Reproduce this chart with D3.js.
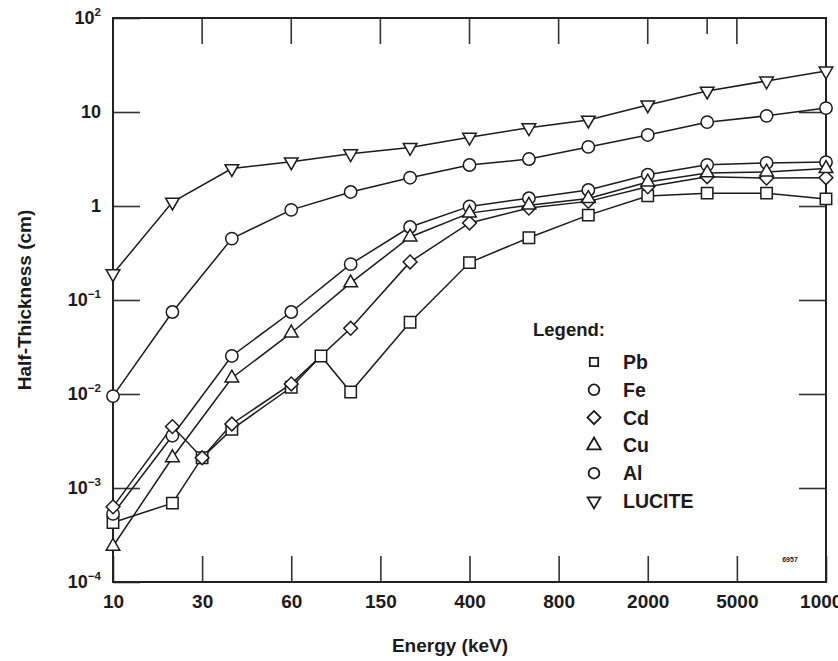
<!DOCTYPE html>
<html>
<head>
<meta charset="utf-8">
<script src="https://cdn.jsdelivr.net/npm/d3@7"></script>
<style>
  body { margin: 0; background: #fff; }
  text { font-family: "Liberation Sans", Arial, sans-serif; font-weight: bold; fill: #1b1b1b; }
</style>
</head>
<body>
<div id="chart"></div>
<script>
// energies (keV) that sit on the evenly spaced grid of the plot
var gridEnergy = [10, 20, 40, 60, 100, 200, 400, 600, 1000, 2000, 4000, 6000, 10000];
var tickEnergy = [10, 30, 60, 150, 400, 800, 2000, 5000, 10000];
var yTickPower = [2, 1, 0, -1, -2, -3, -4];

// half-thickness (cm)
var pbEnergy = [10, 20, 30, 40, 60, 80, 100, 200, 400, 600, 1000, 2000, 4000, 6000, 10000];
var pbValues = [0.00043, 0.00069, 0.0021, 0.0042, 0.0118, 0.0254, 0.0105, 0.058, 0.25, 0.46, 0.80, 1.28, 1.37, 1.37, 1.19];

var cdEnergy = [10, 20, 30, 40, 60, 100, 200, 400, 600, 1000, 2000, 4000, 6000, 10000];
var cdValues = [0.00063, 0.0045, 0.0021, 0.0048, 0.0128, 0.050, 0.254, 0.66, 0.95, 1.12, 1.6, 2.05, 1.98, 2.0];

var feValues = [0.00053, 0.0036, 0.0254, 0.0745, 0.241, 0.598, 0.99, 1.21, 1.48, 2.15, 2.74, 2.87, 2.93];
var cuValues = [0.00024, 0.0021, 0.0148, 0.0446, 0.152, 0.468, 0.84, 1.02, 1.2, 1.8, 2.25, 2.3, 2.5];
var alValues = [0.0095, 0.0745, 0.45, 0.91, 1.41, 2.0, 2.73, 3.16, 4.25, 5.7, 7.8, 9.1, 11];
var luciteValues = [0.19, 1.1, 2.5, 2.95, 3.6, 4.2, 5.4, 6.8, 8.2, 11.9, 16.7, 21.4, 27.3];

var legendNames = ["Pb", "Fe", "Cd", "Cu", "Al", "LUCITE"];

var svgWidth = 838;
var svgHeight = 661;

var margin = {
  top: 18,
  right: 12,
  bottom: 79,
  left: 113
};

var width = svgWidth - margin.left - margin.right;
var height = svgHeight - margin.top - margin.bottom;

var svg = d3.select("#chart")
  .append("svg")
  .attr("width", svgWidth)
  .attr("height", svgHeight);

var chartGroup = svg.append("g")
  .attr("transform", `translate(${margin.left}, ${margin.top})`);

// x: grid energies are equally spaced, in-between values fall half way
var xScale = d3.scaleLinear()
  .domain(gridEnergy)
  .range(gridEnergy.map((d, i) => i * width / (gridEnergy.length - 1)));

var yScale = d3.scaleLog()
  .domain([1e-4, 1e2])
  .range([height, 0]);

function zip(energy, values) {
  return energy.map((e, i) => ({e: e, v: values[i]}));
}

var series = [
  {name: "Pb", symbol: "square", data: zip(pbEnergy, pbValues)},
  {name: "Fe", symbol: "circle", data: zip(gridEnergy, feValues)},
  {name: "Cd", symbol: "diamond", data: zip(cdEnergy, cdValues)},
  {name: "Cu", symbol: "triangle", data: zip(gridEnergy, cuValues)},
  {name: "Al", symbol: "circle", data: zip(gridEnergy, alValues)},
  {name: "LUCITE", symbol: "down", data: zip(gridEnergy, luciteValues)}
];

var symbolType = {
  square: d3.symbolSquare,
  circle: d3.symbolCircle,
  diamond: d3.symbolSquare,
  triangle: d3.symbolTriangle,
  down: d3.symbolTriangle
};
var markerSize = {square: 130, circle: 120, diamond: 95, triangle: 80, down: 80};
var legendSize = {square: 70, circle: 90, diamond: 85, triangle: 80, down: 70};
var symbolRotate = {square: 0, circle: 0, diamond: 45, triangle: 0, down: 180};

// bottom axis, ticks pointing inward
var bottomAxis = d3.axisBottom(xScale)
  .tickValues(tickEnergy)
  .tickSize(-26)
  .tickPadding(13)
  .tickFormat(d3.format("d"));

var xAxis = chartGroup.append("g")
  .attr("transform", `translate(0, ${height})`)
  .call(bottomAxis);
xAxis.select(".domain").remove();
xAxis.selectAll("line").attr("stroke", "#333").attr("stroke-width", 1.6);
xAxis.selectAll("text").attr("font-size", 19).attr("font-family", null);

// top ticks (none in the corners) plus the short one near 5000
chartGroup.selectAll(".top-tick")
  .data(tickEnergy.slice(1, -1).concat([4000]))
  .enter()
  .append("line")
  .attr("x1", d => xScale(d))
  .attr("x2", d => xScale(d))
  .attr("y1", 0)
  .attr("y2", d => d === 4000 ? 16 : 26)
  .attr("stroke", "#333")
  .attr("stroke-width", 1.6);

// left axis
var leftAxis = d3.axisLeft(yScale)
  .tickValues(yTickPower.map(p => Math.pow(10, p)))
  .tickSize(-27)
  .tickFormat("");

var yAxis = chartGroup.append("g").call(leftAxis);
yAxis.select(".domain").remove();
yAxis.selectAll("line").attr("stroke", "#333").attr("stroke-width", 1.6);

// y tick labels as 10 with superscript powers
chartGroup.selectAll(".ylab")
  .data(yTickPower)
  .enter()
  .append("text")
  .attr("x", -12)
  .attr("y", p => yScale(Math.pow(10, p)))
  .attr("dy", "0.36em")
  .attr("text-anchor", "end")
  .attr("font-size", 18)
  .each(function(p) {
    var t = d3.select(this);
    if (p === 0) { t.text("1"); return; }
    t.append("tspan").text("10");
    if (p !== 1) {
      t.append("tspan")
        .attr("font-size", 11.5)
        .attr("dy", "-0.75em")
        .text(p < 0 ? "\u2212" + (-p) : p);
    }
  });

// right side ticks
var rightAxis = d3.axisRight(yScale)
  .tickValues(yTickPower.slice(1, -1).map(p => Math.pow(10, p)))
  .tickSize(-27)
  .tickFormat("");
var yAxisRight = chartGroup.append("g")
  .attr("transform", `translate(${width}, 0)`)
  .call(rightAxis);
yAxisRight.select(".domain").remove();
yAxisRight.selectAll("line").attr("stroke", "#333").attr("stroke-width", 1.6);

// frame
chartGroup.append("rect")
  .attr("width", width)
  .attr("height", height)
  .attr("fill", "none")
  .attr("stroke", "#222")
  .attr("stroke-width", 2);

// lines
var line = d3.line()
  .x(d => xScale(d.e))
  .y(d => yScale(d.v));

chartGroup.selectAll(".series-line")
  .data(series)
  .enter()
  .append("path")
  .attr("d", d => line(d.data))
  .attr("fill", "none")
  .attr("stroke", "#1b1b1b")
  .attr("stroke-width", 1.5);

// markers
series.forEach(function(s) {
  var path = d3.symbol().type(symbolType[s.symbol]).size(markerSize[s.symbol])();
  chartGroup.selectAll(null)
    .data(s.data)
    .enter()
    .append("path")
    .attr("d", path)
    .attr("transform", d => `translate(${xScale(d.e)}, ${yScale(d.v)}) rotate(${symbolRotate[s.symbol]})`)
    .attr("fill", "#fff")
    .attr("stroke", "#1b1b1b")
    .attr("stroke-width", 1.5);
});

// legend
var legend = chartGroup.append("g")
  .attr("transform", "translate(420, 318)");

legend.append("text")
  .attr("x", 0)
  .attr("y", 0)
  .attr("font-size", 18.5)
  .text("Legend:");

var legendItems = legend.selectAll(".item")
  .data(legendNames.map(n => series.find(s => s.name === n)))
  .enter()
  .append("g")
  .attr("transform", (d, i) => `translate(0, ${26 + i * 27.8})`);

legendItems.append("path")
  .attr("d", d => d3.symbol().type(symbolType[d.symbol]).size(legendSize[d.symbol])())
  .attr("transform", d => `translate(61, 0) rotate(${symbolRotate[d.symbol]})`)
  .attr("fill", "#fff")
  .attr("stroke", "#1b1b1b")
  .attr("stroke-width", 1.8);

legendItems.append("text")
  .attr("x", 90)
  .attr("dy", "0.36em")
  .attr("font-size", 19.5)
  .text(d => d.name);

// axis titles
svg.append("text")
  .attr("x", 450)
  .attr("y", 652)
  .attr("text-anchor", "middle")
  .attr("font-size", 19)
  .text("Energy (keV)");

svg.append("text")
  .attr("transform", "translate(31, 300) rotate(-90)")
  .attr("text-anchor", "middle")
  .attr("font-size", 19)
  .text("Half-Thickness (cm)");

// figure number in the corner
svg.append("text")
  .attr("x", 790)
  .attr("y", 562)
  .attr("text-anchor", "middle")
  .attr("font-size", 7)
  .attr("fill", "#666")
  .text("6957");
</script>
</body>
</html>
